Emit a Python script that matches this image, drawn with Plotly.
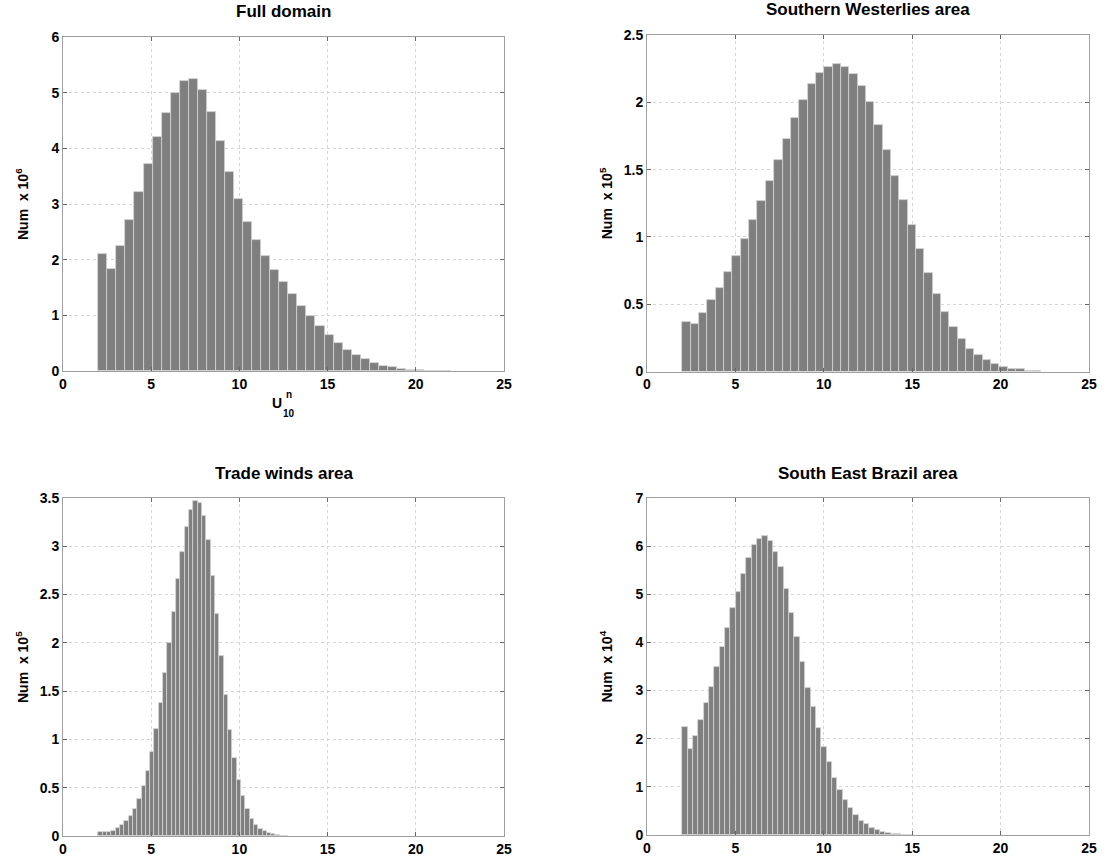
import numpy as np
import plotly.graph_objects as go

W, H = 1105, 865

titles = ["Full domain", "Southern Westerlies area", "Trade winds area", "South East Brazil area"]
exponents = ["6", "5", "5", "4"]
bin_start = [2.0, 2.0, 2.0, 2.0]
bin_width = [0.513, 0.472, 0.245, 0.302]

full_domain = [2.10, 1.84, 2.24, 2.71, 3.21, 3.71, 4.20, 4.64, 4.99, 5.21, 5.25, 5.04, 4.65,
               4.13, 3.58, 3.09, 2.68, 2.35, 2.07, 1.82, 1.60, 1.38, 1.17, 0.98, 0.81, 0.64,
               0.50, 0.38, 0.29, 0.22, 0.145, 0.096, 0.066, 0.042, 0.024, 0.012, 0.006, 0.003, 0.001]
southern_westerlies = [0.366, 0.354, 0.438, 0.532, 0.623, 0.737, 0.861, 0.987, 1.123, 1.264, 1.417,
                       1.568, 1.731, 1.882, 2.018, 2.134, 2.218, 2.263, 2.285, 2.263, 2.211, 2.119,
                       2.003, 1.835, 1.649, 1.456, 1.271, 1.086, 0.907, 0.729, 0.576, 0.445, 0.334,
                       0.240, 0.168, 0.119, 0.082, 0.057, 0.035, 0.022, 0.015, 0.007, 0.005]
trade_winds = [0.04, 0.038, 0.04, 0.055, 0.08, 0.114, 0.16, 0.21, 0.28, 0.384, 0.515, 0.678, 0.868,
               1.11, 1.38, 1.69, 2.0, 2.32, 2.66, 2.94, 3.20, 3.38, 3.47, 3.45, 3.31, 3.06, 2.69,
               2.30, 1.86, 1.46, 1.10, 0.81, 0.58, 0.41, 0.28, 0.18, 0.114, 0.073, 0.048, 0.028,
               0.017, 0.01, 0.005, 0.003]
se_brazil = [2.24, 1.79, 2.05, 2.38, 2.74, 3.07, 3.49, 3.91, 4.31, 4.72, 5.05, 5.43, 5.75, 6.02,
             6.15, 6.21, 6.11, 5.87, 5.57, 5.10, 4.61, 4.11, 3.59, 3.06, 2.66, 2.22, 1.82, 1.51,
             1.19, 0.94, 0.73, 0.57, 0.42, 0.30, 0.22, 0.15, 0.097, 0.062, 0.035, 0.02, 0.014,
             0.007, 0.003]
series = [full_domain, southern_westerlies, trade_winds, se_brazil]

y_max = [6, 2.5, 3.5, 7]
y_step = [1, 0.5, 0.5, 1]
x_ticks = [0, 5, 10, 15, 20, 25]

# panel boxes in pixels: (left, right, top, bottom)
boxes = [(63, 504, 37, 371), (647, 1089, 35, 371.5), (63, 504, 498, 836), (647, 1089, 498, 835)]

FONT = "Liberation Sans, Arial, Helvetica, sans-serif"
fig = go.Figure()
layout = dict(template="none", width=W, height=H, margin=dict(l=0, r=0, t=0, b=0, pad=0),
              paper_bgcolor="white", plot_bgcolor="white", showlegend=False,
              font=dict(family=FONT, color="black"), bargap=0)
annotations = []
for i in range(4):
    vals = np.array(series[i])
    centers = bin_start[i] + bin_width[i] * (np.arange(len(vals)) + 0.5)
    ax = "" if i == 0 else str(i + 1)
    fig.add_trace(go.Bar(x=centers, y=vals, width=bin_width[i],
                         marker=dict(color="#7f7f7f", line=dict(width=0.8, color="#d4d4d4")),
                         xaxis="x" + ax, yaxis="y" + ax, hoverinfo="x+y"))
    l, r, t, b = boxes[i]
    dom_x = [l / W, r / W]
    dom_y = [1 - b / H, 1 - t / H]
    yt = list(np.round(np.arange(0, y_max[i] + 1e-9, y_step[i]), 2))
    ytext = [("%g" % v) for v in yt]
    common = dict(showline=True, linecolor="#a0a0a0", linewidth=1, mirror="ticks",
                  ticks="inside", ticklen=4, tickcolor="#666666", automargin=False,
                  showgrid=True, gridcolor="#d6d6d6", griddash="dot", gridwidth=1,
                  zeroline=False, tickfont=dict(family=FONT, size=14, weight="bold", color="black"))
    layout["xaxis" + ax] = dict(domain=dom_x, range=[0, 25], tickvals=x_ticks,
                                ticktext=[str(v) for v in x_ticks], anchor="y" + ax, **common)
    layout["yaxis" + ax] = dict(domain=dom_y, range=[0, y_max[i]], tickvals=yt, ticktext=ytext,
                                anchor="x" + ax, ticklabelstandoff=0, **common)
    annotations.append(dict(text="<b>%s</b>" % titles[i], x=(l + r) / 2 / W, y=1 - (t - 25) / H,
                            xref="paper", yref="paper", showarrow=False,
                            font=dict(family=FONT, size=17), xanchor="center", yanchor="middle"))
    annotations.append(dict(text="<b>Num  x 10<sup>%s</sup></b>" % exponents[i],
                            x=(l - 41) / W, y=1 - ((t + b) / 2) / H, xref="paper", yref="paper",
                            showarrow=False, textangle=-90, font=dict(family=FONT, size=14),
                            xanchor="center", yanchor="middle"))

# x-axis label of the first panel: U with stacked n and 10
annotations.append(dict(text="<b>U</b>", x=277 / W, y=1 - 403 / H, xref="paper", yref="paper",
                        showarrow=False, font=dict(family=FONT, size=14), xanchor="center", yanchor="middle"))
annotations.append(dict(text="<b>n</b>", x=288.5 / W, y=1 - 395 / H, xref="paper", yref="paper",
                        showarrow=False, font=dict(family=FONT, size=10), xanchor="center", yanchor="middle"))
annotations.append(dict(text="<b>10</b>", x=289 / W, y=1 - 413 / H, xref="paper", yref="paper",
                        showarrow=False, font=dict(family=FONT, size=10), xanchor="center", yanchor="middle"))

layout["annotations"] = annotations
fig.update_layout(**layout)
fig.write_html("out.html")
